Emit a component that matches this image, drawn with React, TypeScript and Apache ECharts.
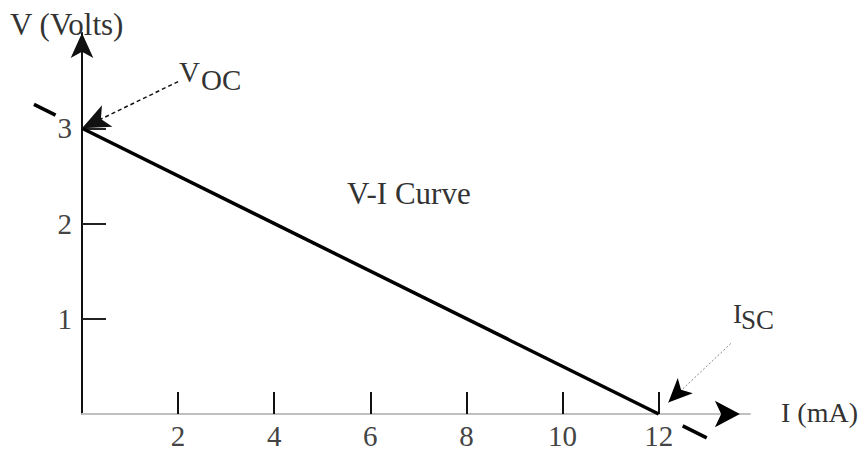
import React, { useEffect, useRef } from "react";
import * as echarts from "echarts";

const curveI = [0, 12];
const curveV = [3, 0];
const extLeftI = [-1, -0.55];
const extLeftV = [3.25, 3.1375];
const extRightI = [12.5, 13];
const extRightV = [-0.125, -0.25];
const xTicks = [2, 4, 6, 8, 10, 12];
const yTicks = [1, 2, 3];
const vocFrom = [2, 3.49];
const vocTo = [0, 3];
const iscFrom = [13.5, 0.74];
const iscArrowAt = [12.2, 0.12];
const xArrowAt = [13.69, 0];

const FONT = "'Liberation Serif', 'DejaVu Serif', serif";

const pairs = (xs: number[], ys: number[]) => xs.map((x, i) => [x, ys[i]]);

export default function App() {
  const ref = useRef<HTMLDivElement>(null);
  useEffect(() => {
    document.body.style.margin = "0";
    const chart = echarts.init(ref.current!, null, { renderer: "svg" });
    const txt = (text: string, x: number, y: number, size = 30, align = "left") => ({
      type: "text",
      x,
      y,
      style: { text, fontFamily: FONT, fontSize: size, fill: "#333", align, verticalAlign: "middle" },
    });
    const segments = [
      [extLeftI[0], extLeftV[0], extLeftI[1], extLeftV[1]],
      [extRightI[0], extRightV[0], extRightI[1], extRightV[1]],
    ];
    chart.setOption({
      animation: false,
      grid: { left: 82, right: 118, top: 33, bottom: 32 },
      xAxis: {
        type: "value",
        min: 0,
        max: 13.9,
        splitLine: { show: false },
        axisLine: {
          onZero: false,
          lineStyle: { color: "#c0c0c0", width: 2 },
        },
        axisTick: { inside: true, length: 22, customValues: xTicks, lineStyle: { color: "#111", width: 2 } },
        axisLabel: { customValues: xTicks, margin: 7, fontFamily: FONT, fontSize: 29, color: "#444" },
      },
      yAxis: {
        type: "value",
        min: 0,
        max: 4,
        splitLine: { show: false },
        axisLine: {
          onZero: false,
          symbol: ["none", "arrow"],
          symbolSize: [17, 25],
          lineStyle: { color: "#111", width: 2 },
        },
        axisTick: { inside: true, length: 24, customValues: yTicks, lineStyle: { color: "#222", width: 2 } },
        axisLabel: { customValues: yTicks, margin: 10, fontFamily: FONT, fontSize: 29, color: "#444" },
      },
      series: [
        {
          type: "line",
          data: pairs(curveI, curveV),
          symbol: "none",
          clip: false,
          lineStyle: { color: "#000", width: 3.5 },
          markLine: {
            silent: true,
            animation: false,
            label: { show: false },
            data: [
              [
                { coord: vocFrom, symbol: "none", lineStyle: { type: [4, 3], color: "#111", width: 1.5 } },
                { coord: vocTo, symbol: "arrow", symbolSize: [18, 28] },
              ],
              [
                { coord: iscFrom, symbol: "none", lineStyle: { type: [2, 2], color: "#888", width: 1 } },
                { coord: iscArrowAt, symbol: "none" },
              ],
            ],
          },
          markPoint: {
            silent: true,
            animation: false,
            label: { show: false },
            data: [
              {
                coord: xArrowAt,
                symbol: "arrow",
                symbolRotate: -90,
                symbolSize: [20, 25],
                itemStyle: { color: "#000" },
              },
              {
                coord: iscArrowAt,
                symbol: "arrow",
                symbolRotate: 135,
                symbolSize: [16, 24],
                itemStyle: { color: "#000" },
              },
            ],
          },
        },
        {
          type: "custom",
          clip: false,
          silent: true,
          data: segments,
          renderItem: (params: any, api: any) => {
            const p1 = api.coord([api.value(0), api.value(1)]);
            const p2 = api.coord([api.value(2), api.value(3)]);
            return {
              type: "line",
              shape: { x1: p1[0], y1: p1[1], x2: p2[0], y2: p2[1] },
              style: { stroke: "#000", lineWidth: 3.5 },
            };
          },
          encode: { x: [0, 2], y: [1, 3] },
        },
      ],
      graphic: [
        txt("V (Volts)", 10, 24, 31),
        txt("I (mA)", 781, 412, 28),
        txt("V-I Curve", 347, 193, 31),
        txt("V", 179, 72, 29),
        txt("OC", 201, 80, 29),
        txt("I", 733, 314, 27),
        txt("SC", 741, 320, 27),
      ],
    });
    return () => chart.dispose();
  }, []);
  return <div ref={ref} style={{ width: 868, height: 450 }} />;
}
